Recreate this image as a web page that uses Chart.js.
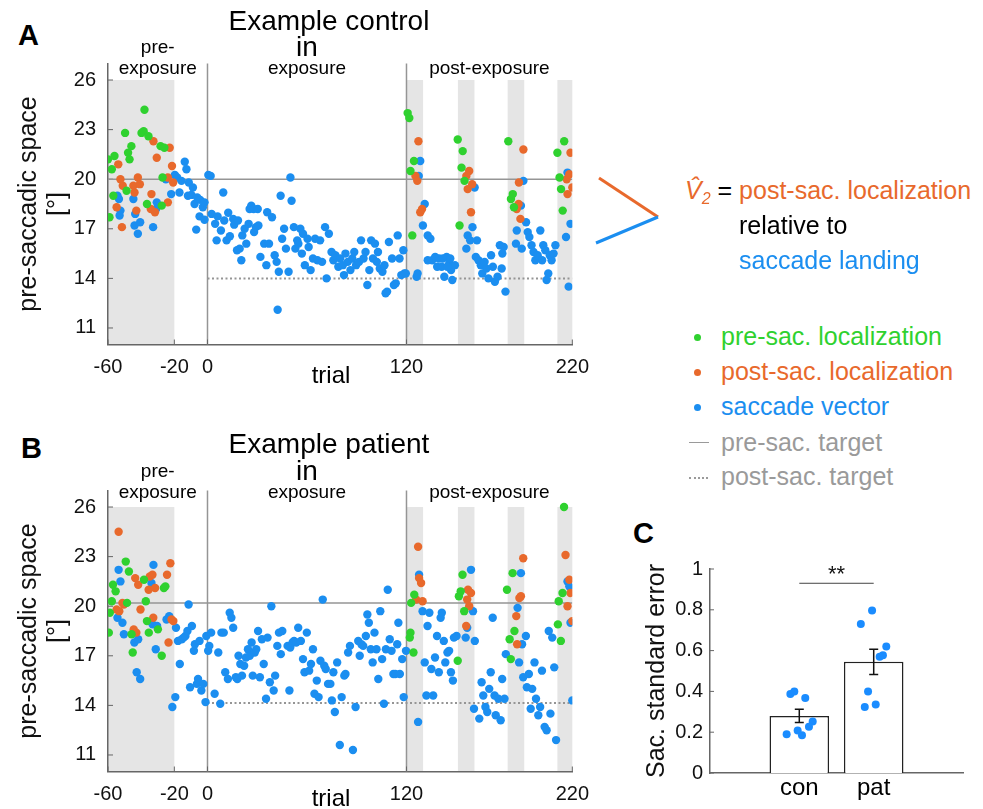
<!DOCTYPE html>
<html>
<head>
<meta charset="utf-8">
<script src="https://cdn.jsdelivr.net/npm/chart.js@4.4.1/dist/chart.umd.min.js"></script>
<style>
  body { margin: 0; background: #fff; }
  #fig { position: relative; width: 983px; height: 809px; overflow: hidden; font-family: "Liberation Sans", Arial, sans-serif; }
  #fig canvas { position: absolute; }
  .txt { position: absolute; white-space: nowrap; font-size: 25px; line-height: 25px; }
  .letter { position: absolute; font-weight: bold; font-size: 29px; line-height: 29px; }
  .dot { position: absolute; width: 7px; height: 7px; border-radius: 50%; }
</style>
</head>
<body>
<div id="fig">
  <div class="letter" style="left:18px;top:21px">A</div>
  <div class="letter" style="left:21px;top:434px">B</div>
  <div class="letter" style="left:633px;top:519px">C</div>

  <canvas id="chartA" width="600" height="400" style="left:0;top:0"></canvas>
  <canvas id="chartB" width="600" height="389" style="left:0;top:420px"></canvas>
  <canvas id="chartC" width="363" height="299" style="left:620px;top:510px"></canvas>

  <!-- V2 sketch: localization vs landing -->
  <svg style="position:absolute;left:585px;top:165px" width="85" height="95">
    <line x1="14" y1="13" x2="73" y2="52" stroke="#e8692c" stroke-width="3"/>
    <line x1="11" y1="78" x2="73" y2="52" stroke="#1b8ef0" stroke-width="3"/>
  </svg>
  <div class="txt" style="left:685px;top:178px">
    <span style="color:#e8692c;font-style:italic">V&#770;</span><span style="color:#e8692c;font-style:italic;font-size:16px;position:relative;top:5px">2</span>
    = <span style="color:#e8692c">post-sac. localization</span>
  </div>
  <div class="txt" style="left:739px;top:213px;color:#000">relative to</div>
  <div class="txt" style="left:739px;top:248px;color:#1b8ef0">saccade landing</div>

  <div class="dot" style="left:694px;top:334px;background:#2fd12f"></div>
  <div class="txt" style="left:721px;top:324px;color:#2fd12f">pre-sac. localization</div>
  <div class="dot" style="left:694px;top:369px;background:#e8692c"></div>
  <div class="txt" style="left:721px;top:359px;color:#e8692c">post-sac. localization</div>
  <div class="dot" style="left:694px;top:404px;background:#1b8ef0"></div>
  <div class="txt" style="left:721px;top:394px;color:#1b8ef0">saccade vector</div>
  <div style="position:absolute;left:689px;top:442px;width:20px;border-top:1.5px solid #9a9a9a"></div>
  <div class="txt" style="left:721px;top:430px;color:#9a9a9a">pre-sac. target</div>
  <div style="position:absolute;left:689px;top:477px;width:19px;border-top:2px dotted #9a9a9a"></div>
  <div class="txt" style="left:721px;top:464px;color:#9a9a9a">post-sac. target</div>
</div>

<script>
// ---- trial axis / phases ----
const trialTicks = [-60, -20, 0, 120, 220];
const spaceTicks = [11, 14, 17, 20, 23, 26];
const phaseBounds = [-60, 0, 120, 220];
const phaseLabels = [['pre-', 'exposure'], ['exposure'], ['post-exposure']];
const shadedBlocks = [[-60, -20], [120, 130], [151, 161], [181, 191], [211, 220]];
const shadeTop = 26;

// targets: [pre-saccadic, post-saccadic] in deg
const controlTargets = [20, 14];
const patientTargets = [20.2, 14.15];

// ---- example control: [trial, deg] ----
const controlPreLoc = [
  [-60, 21.2], [-57.7, 20.6], [-56.1, 21.4], [-56.8, 19.0], [-59.1, 17.7], [-49.7, 22.8], [-47.9, 21.6],
  [-45.9, 22.0], [-47, 21.2], [-48.8, 19.3], [-38, 24.2], [-39.8, 22.8], [-38.5, 22.9], [-35.6, 22.6],
  [-36.5, 18.5], [-28.3, 22.0], [-26, 21.9], [-27.1, 20.1], [-27.6, 18.4],
  [120.7, 24.0], [121.7, 23.7], [122.4, 20.5], [124.5, 21.1], [123.5, 16.6],
  [150.9, 22.4], [153.9, 21.7], [153.2, 20.7], [155, 19.9], [152, 17.2],
  [181.4, 22.3], [183, 18.8], [184.1, 19.1], [184.8, 18.3],
  [211, 21.6], [212.3, 20.1], [213.2, 19.4], [215.1, 22.3], [214.2, 18.1]
];
const controlPostLoc = [
  [-53.8, 20.9], [-52.5, 20.0], [-51.1, 19.6], [-54.8, 18.3], [-51.6, 17.1], [-44.7, 19.6], [-44, 19.2],
  [-42, 20.1], [-40.8, 19.7], [-42.9, 18.1], [-33.8, 19.1], [-32.6, 22.3], [-30.6, 21.3], [-34.2, 18.2],
  [-31.7, 18.0], [-23.9, 20.1], [-22.8, 21.9], [-21.4, 20.8], [-20.7, 19.8], [-23.9, 18.6],
  [127.2, 22.3], [125.4, 20.2], [126.5, 19.9], [128.3, 18.0], [129.4, 18.2],
  [157.8, 20.5], [156.1, 20.2], [156.9, 19.4], [159.6, 19.7], [158.9, 18.0],
  [187.8, 19.8], [186.5, 18.2], [187.6, 18.5], [188.7, 17.6], [190.5, 21.8],
  [216.6, 20.0], [218.2, 20.3], [218.9, 21.6], [217.1, 19.1], [220, 19.5]
];
const controlSaccade = [
  [-54.3, 19.0], [-53.4, 18.8], [-52.5, 18.1], [-53, 17.8], [-44.7, 18.8], [-43.6, 17.9], [-42, 16.7],
  [-44, 17.2], [-40.6, 17.4], [-32.8, 17.1], [-30.6, 18.6], [-31, 18.2], [-25.1, 20.0], [-21.9, 19.1],
  [-19.7, 20.25], [-18.3, 20.1], [-16.9, 19.2], [-15.7, 19.9], [-13.7, 21.06], [-12.7, 20.6], [-11.3, 19.8],
  [-11.8, 19.0], [-9.7, 19.05], [-8.8, 19.5], [-7.8, 18.5], [-6.2, 18.9], [-6.8, 16.95], [-4.4, 18.75],
  [-4.8, 17.75], [-2.8, 18.3], [-1.8, 18.6], [-1.8, 17.55], [0.5, 20.25], [1.9, 20.2], [2.5, 17.9],
  [4.6, 17.3], [5.5, 16.3], [6.1, 17.75], [8.1, 16.9], [9.5, 19.2], [10.1, 17.5], [11.5, 16.3],
  [12.5, 17.97], [13.5, 16.55], [15.5, 17.6], [16.1, 17.25], [17.8, 15.7], [18.4, 17.5], [19.4, 15.8],
  [20.4, 15.1], [21, 16.6], [22.4, 17.0], [23.4, 16.1], [24.8, 17.3], [25.4, 18.2], [26.4, 18.4],
  [27.8, 18.2], [28.1, 16.8], [29.2, 17.1], [30.3, 18.2], [30.7, 17.2], [31.9, 15.3], [34.2, 16.1],
  [35.5, 14.8], [37.1, 16.1], [36, 18.0], [38.9, 17.7], [40.5, 15.4], [41.7, 15.0], [42.3, 12.1],
  [43, 14.4], [44.1, 19.0], [45, 16.4], [46.2, 17.0], [47.3, 15.8], [48.9, 14.4], [50, 20.1],
  [50.7, 18.7], [52.1, 17.1], [53, 15.8], [54.1, 16.3], [54.8, 16.1], [56, 17.0], [56.9, 15.5],
  [57.6, 16.7], [58.7, 14.8], [60.3, 16.4], [61, 15.9], [62.2, 14.5], [63.6, 15.2], [64.9, 16.4],
  [66.3, 15.1], [67.9, 16.3], [69.1, 15.0], [70.9, 17.1], [71.8, 14.0], [73.2, 16.7], [74.8, 15.6],
  [75.9, 15.1], [77.1, 15.4], [78.9, 14.7], [80, 15.2], [81.6, 14.8], [82.3, 14.2], [83.2, 15.5],
  [84.6, 15.0], [86.2, 14.5], [87.3, 15.2], [88.5, 15.6], [89.6, 14.8], [91.4, 15.0], [92.6, 16.3],
  [94.1, 15.2], [95.3, 15.6], [96.4, 13.6], [97.6, 14.5], [98.7, 16.3], [99.8, 15.2], [101, 16.1],
  [102.1, 15.0], [102.8, 15.6], [103.9, 14.6], [105.5, 14.4], [106.7, 14.8], [107.4, 13.1], [108.3, 13.2],
  [109.4, 16.2], [111.3, 15.2], [112.4, 13.6], [113.5, 13.7], [114.7, 16.6], [115.8, 15.2], [116.9, 14.2],
  [118.1, 15.7], [118.7, 14.3], [119.6, 14.3],
  [128.3, 21.1], [127.4, 20.2], [126.1, 14.1], [126.7, 14.3], [129.9, 17.2], [131, 18.5], [132.8, 16.6],
  [134.4, 16.4], [132.8, 15.1], [135.5, 15.1], [137.3, 15.3], [138.5, 14.7], [139.6, 15.2], [141.2, 14.7],
  [141.9, 15.2], [142.8, 14.1], [144.2, 15.3], [145.8, 14.9], [146.9, 14.5], [147.6, 13.9], [149.2, 14.8],
  [146.4, 15.2], [144.6, 14.7],
  [161.1, 19.5], [156.1, 15.8], [156.9, 16.6], [158.4, 16.3], [159.8, 17.1], [162.5, 16.3],
  [161.8, 15.3], [163.4, 15.1], [164.8, 14.8], [165.7, 14.3], [167.1, 15.0], [168.2, 14.6], [169.4, 14.0],
  [171, 15.4], [172.1, 14.7], [173.3, 13.8], [174.9, 14.1], [176.3, 16.0], [177.4, 14.6], [178.6, 15.9],
  [179.7, 13.2], [177.8, 15.5],
  [190.5, 19.9], [186.5, 16.9], [186, 16.1], [189, 18.4], [189.5, 15.8],
  [192.1, 17.4], [193.1, 16.8], [194.1, 16.5], [195.4, 16.0], [196.6, 15.6], [197.7, 15.1], [199.1, 15.4],
  [200.7, 16.9], [201.8, 15.1], [202.5, 16.0], [203.7, 15.7], [204.5, 13.9], [205.5, 14.3], [206.4, 15.4],
  [207.5, 15.1], [208.7, 15.5], [209.8, 16.0],
  [217.1, 20.4], [216.2, 16.5], [218.9, 17.3], [217.8, 13.5]
];

// ---- example patient: [trial, deg] ----
const patientPreLoc = [
  [-59.5, 18.4], [-58.9, 19.6], [-57.7, 20.3], [-57, 21.3], [-55.4, 20.9], [-49.3, 22.7], [-47.4, 22.1],
  [-48.5, 20.2], [-45.8, 18.3], [-45.1, 17.2], [-38.3, 21.6], [-37.2, 20.3], [-36.5, 19.1], [-35.4, 18.4],
  [-29.9, 18.6], [-27.6, 17.0], [-26.3, 21.1], [-25.4, 21.2],
  [122.4, 18.4], [122, 18.1], [122.8, 20.2], [124.7, 20.7], [124.2, 17.2],
  [151.6, 20.6], [152.7, 20.9], [153.8, 21.9], [154.8, 19.7], [150.9, 16.7],
  [180.6, 21.0], [182.2, 18.0], [184, 22.0], [185.1, 18.5], [182.9, 16.8],
  [215, 26.0], [214.1, 20.8], [211.8, 20.3], [211.3, 18.9], [213.1, 17.9]
];
const patientPostLoc = [
  [-53.6, 24.5], [-54.8, 19.8], [-53.2, 19.7], [-51.3, 20.2], [-50.4, 20.1], [-43.6, 21.7], [-41.8, 21.3],
  [-40.4, 19.8], [-44.5, 18.6], [-42.9, 18.4], [-34.8, 21.8], [-33.2, 21.9], [-35.5, 21.0], [-31.6, 21.1],
  [-32.7, 19.3], [-22.4, 22.6], [-24.4, 21.9], [-23.5, 17.8], [-21.7, 19.2], [-20.6, 19.1],
  [127, 23.6], [127.6, 21.7], [128.8, 21.4], [125.8, 20.4], [129.7, 20.3],
  [157.1, 21.0], [158.9, 20.8], [156.6, 20.4], [157.8, 20.0], [156, 18.8],
  [186.2, 19.4], [186.7, 17.7], [188.1, 20.5], [189, 20.6], [190.4, 22.9],
  [215.9, 23.1], [217.1, 20.0], [218.2, 21.6], [218.9, 20.8], [220, 19.1]
];
const patientSaccade = [
  [-53.6, 22.2], [-52.5, 21.5], [-54.3, 19.3], [-51.3, 19.0], [-50.4, 18.3], [-44.1, 17.8], [-41.8, 18.0],
  [-42.7, 16.0], [-40.6, 15.6], [-32.6, 22.5], [-33.8, 21.4], [-33.1, 18.9], [-31.2, 17.4], [-30.4, 18.8],
  [-24.7, 19.2], [-23.1, 19.4],
  [-19, 18.7], [-21.2, 13.9], [-19.4, 14.5], [-17.8, 17.9], [-16.7, 16.5], [-15.5, 18.0], [-14.4, 18.1],
  [-13.3, 18.2], [-12.1, 18.5], [-11.4, 20.1], [-10.5, 15.1], [-9.4, 18.8], [-8.2, 17.3], [-7.6, 17.7],
  [-6.4, 15.3], [-5.7, 15.6], [-4.8, 17.9], [-3.7, 14.9], [-2.5, 15.3], [-1.2, 14.2], [-0.7, 18.2],
  [0.4, 17.3], [1.1, 17.6], [2.2, 18.4], [4.3, 14.7], [6.5, 17.2], [7.7, 14.1], [8.4, 18.4], [9.8, 18.4],
  [10.7, 16.0], [12.3, 15.6], [13.4, 19.6], [14.4, 19.3], [15.5, 18.7], [17.1, 15.7], [18, 15.6],
  [18.7, 17.0], [19.8, 16.5], [20.8, 15.8], [22.1, 16.4], [23.2, 16.9], [24.4, 17.4], [25.5, 17.0],
  [26.6, 17.8], [27.3, 15.8], [28.5, 17.2], [29.4, 17.4], [30.5, 18.5], [31.6, 15.7], [32.8, 18.0],
  [33.9, 16.5], [35.3, 14.4], [36.2, 18.1], [37.6, 15.4], [38.5, 20.0], [39.9, 14.9], [40.8, 15.8],
  [42.1, 17.6], [43.1, 18.4], [44.2, 17.1], [45.1, 18.5], [48.3, 17.6], [49.4, 14.9], [49.9, 17.5],
  [51.3, 17.8], [52.2, 17.9], [53.5, 17.8], [54.7, 18.7], [56.3, 17.9], [57.6, 16.8], [58.5, 16.0],
  [59.9, 18.4], [61.3, 16.1], [62.4, 16.5], [63.6, 17.4], [64.5, 14.7], [65.9, 15.5], [67, 14.5],
  [68.1, 16.7], [69.5, 20.4], [70.4, 16.4], [71.3, 16.2], [72.7, 15.3], [74.1, 15.3], [75, 14.3],
  [75.9, 16.0], [76.8, 13.6], [78.2, 16.6], [79.8, 11.6], [80.9, 14.5], [82.5, 15.8], [83.2, 15.9],
  [84.8, 17.2], [85.9, 17.6], [87.7, 11.3], [89.3, 13.9], [90.9, 17.9], [91.8, 17.0], [92.8, 17.7],
  [93.9, 17.6], [95.5, 18.2], [96.4, 19.5], [97.3, 19.0], [98.5, 17.4], [99.6, 16.6], [100.7, 18.4],
  [101.9, 17.4], [103, 15.6], [104.2, 19.7], [105.3, 16.8], [106.4, 14.1], [107.6, 17.4], [108.7, 21.0],
  [109.9, 18.0], [111, 17.3], [112.1, 15.9], [113.3, 15.9], [114.4, 17.7], [115.1, 19.0], [116, 15.9],
  [117.4, 16.8], [118.3, 14.5], [119.7, 17.3],
  [127.6, 21.9], [127, 13.0], [129.7, 19.7], [131, 16.6], [132.7, 18.8], [132, 14.6],
  [133.8, 19.6], [135, 16.2], [136.1, 14.6], [137.2, 16.9], [138.4, 18.2], [139.5, 16.0], [140.6, 19.3],
  [141.3, 19.6], [142.5, 17.9], [143.4, 16.6], [144.7, 17.2], [145.7, 17.3], [146.8, 16.0], [148, 15.5],
  [148.6, 18.1], [150.2, 18.2],
  [158.9, 22.2], [156.6, 18.7], [155.7, 18.1], [160.1, 19.7], [161.2, 17.9], [160.7, 13.8],
  [163.9, 13.2], [165.3, 15.4], [166.3, 14.6], [167.6, 13.9], [168.7, 13.6], [169.9, 15.0], [170.8, 16.0],
  [172, 19.3], [173.1, 14.6], [173.8, 13.4], [175.4, 14.4], [176.8, 13.1], [177.7, 15.6], [179.1, 14.4],
  [189, 22.0], [187, 19.9], [189.7, 17.7], [187.9, 16.6], [190.4, 15.7], [192, 18.2], [179.9, 17.1],
  [192.6, 15.1], [193.8, 15.9], [194.9, 13.8], [195.8, 15.0], [197.2, 16.6], [198.1, 14.4], [199.5, 13.4],
  [200.6, 13.9], [201.7, 16.1], [203.3, 12.7], [204.5, 12.5], [205.8, 18.5], [206.8, 13.5], [207.9, 18.1],
  [209.1, 16.3], [210.2, 11.9],
  [217.1, 21.5], [218.2, 21.2], [218.9, 19.0], [220, 14.3]
];

// ---- panel C: saccadic standard error per group ----
const groupNames = ['con', 'pat'];
const groupPos = [1, 2];
const groupMean = [0.28, 0.545];
const groupSem = [0.032, 0.062];
const errTicks = [0, 0.2, 0.4, 0.6, 0.8, 1];
const conDotVals = [0.387, 0.40, 0.368, 0.19, 0.208, 0.185, 0.253, 0.227];
const conDotX = [0.88, 0.933, 1.08, 0.83, 0.978, 1.036, 1.18, 1.13];
const patDotVals = [0.73, 0.797, 0.62, 0.577, 0.57, 0.399, 0.324, 0.336];
const patDotX = [1.827, 1.978, 2.169, 2.124, 2.08, 1.924, 1.88, 2.027];

const GREEN = '#2fd12f';
const ORANGE = '#e8692c';
const BLUE = '#1b8ef0';
const AXIS = '#666';
const REF = '#959595';
const FONT = '"Liberation Sans", Arial, sans-serif';

Chart.defaults.font.family = FONT;
Chart.defaults.color = '#111';

const xy = (list) => list.map(([x, y]) => ({ x, y }));

const phasePanel = {
  id: 'phasePanel',
  beforeDraw(chart) {
    const { ctx, scales: { x, y } } = chart;
    const yTop = y.getPixelForValue(shadeTop);
    const yBot = y.getPixelForValue(y.min);
    ctx.save();
    ctx.fillStyle = '#e5e5e5';
    shadedBlocks.forEach(([t0, t1]) => {
      const x0 = x.getPixelForValue(t0);
      ctx.fillRect(x0, yTop, x.getPixelForValue(t1) - x0, yBot - yTop);
    });
    ctx.restore();
  },
  beforeDatasetsDraw(chart) {
    const { ctx, chartArea: area, scales: { x, y } } = chart;
    ctx.save();
    ctx.strokeStyle = REF;
    ctx.lineWidth = 1.5;
    phaseBounds.slice(1, -1).forEach((t) => {
      const px = x.getPixelForValue(t);
      ctx.beginPath();
      ctx.moveTo(px, area.top);
      ctx.lineTo(px, area.bottom);
      ctx.stroke();
    });
    // tick marks point inwards
    ctx.strokeStyle = AXIS;
    ctx.lineWidth = 1;
    y.ticks.forEach((t) => {
      const py = y.getPixelForValue(t.value);
      ctx.beginPath();
      ctx.moveTo(area.left, py);
      ctx.lineTo(area.left + 5, py);
      ctx.stroke();
    });
    x.ticks.forEach((t) => {
      const px = x.getPixelForValue(t.value);
      ctx.beginPath();
      ctx.moveTo(px, area.bottom);
      ctx.lineTo(px, area.bottom - 5);
      ctx.stroke();
    });
    ctx.restore();
  },
  afterDraw(chart, args, o) {
    const { ctx, scales: { x } } = chart;
    ctx.save();
    ctx.fillStyle = '#000';
    ctx.textAlign = 'center';
    ctx.textBaseline = 'middle';
    ctx.font = `28px ${FONT}`;
    o.title.forEach(([s, px, py]) => ctx.fillText(s, px, py));
    ctx.font = `19px ${FONT}`;
    phaseLabels.forEach((lines, i) => {
      const cx = (x.getPixelForValue(phaseBounds[i]) + x.getPixelForValue(phaseBounds[i + 1])) / 2;
      lines.forEach((s, j) => ctx.fillText(s, cx, o.labelY - (lines.length - 1 - j) * 21));
    });
    ctx.font = `24px ${FONT}`;
    ctx.fillText('trial', 331, o.trialY);
    ctx.restore();
  }
};

function trialChart(id, preLoc, postLoc, saccade, targets, cfg) {
  const canvas = document.getElementById(id);
  const H = canvas.height;
  return new Chart(canvas, {
    type: 'scatter',
    data: {
      datasets: [
        { data: xy(preLoc), backgroundColor: GREEN, order: 1 },
        { data: xy(postLoc), backgroundColor: ORANGE, order: 1 },
        { data: xy(saccade), backgroundColor: BLUE, order: 1 },
        {
          type: 'line', order: 5, data: [{ x: -60, y: targets[0] }, { x: 220, y: targets[0] }],
          borderColor: REF, borderWidth: 1.5, pointRadius: 0, fill: false
        },
        {
          type: 'line', order: 5, data: [{ x: 0, y: targets[1] }, { x: 220, y: targets[1] }],
          borderColor: REF, borderWidth: 2, borderDash: [2, 2.5], pointRadius: 0, fill: false
        }
      ]
    },
    plugins: [phasePanel],
    options: {
      responsive: false,
      animation: false,
      events: [],
      layout: { padding: { top: cfg.top, right: 22, left: 0, bottom: 0 } },
      elements: { point: { radius: 4.2, borderWidth: 0, hoverRadius: 4.2 } },
      scales: {
        x: {
          type: 'linear', min: -60, max: 220,
          afterBuildTicks: (s) => { s.ticks = trialTicks.map((v) => ({ value: v })); },
          afterFit: (s) => { s.height = H - cfg.bottom; },
          grid: { display: false, drawTicks: false },
          border: { color: AXIS, width: 1.5 },
          ticks: { autoSkip: false, maxRotation: 0, minRotation: 0, padding: 11, font: { size: 20 } }
        },
        y: {
          type: 'linear', min: 10, max: 27,
          afterBuildTicks: (s) => { s.ticks = spaceTicks.map((v) => ({ value: v })); },
          afterFit: (s) => { s.width = 108; },
          grid: { display: false, drawTicks: false },
          border: { color: AXIS, width: 1.5 },
          ticks: { padding: 12, font: { size: 20 } },
          title: {
            display: true, text: ['pre-saccadic space', '[°]'], color: '#111',
            font: { size: 25, lineHeight: 1.16 }, padding: { top: 15, bottom: 0 }
          }
        }
      },
      plugins: {
        legend: { display: false },
        tooltip: { enabled: false },
        phasePanel: cfg
      }
    }
  });
}

trialChart('chartA', controlPreLoc, controlPostLoc, controlSaccade, controlTargets, {
  top: 63.5, bottom: 344.5, labelY: 69, trialY: 376,
  title: [['Example control', 329, 22], ['in', 307, 48]]
});
trialChart('chartB', patientPreLoc, patientPostLoc, patientSaccade, patientTargets, {
  top: 70.5, bottom: 351.5, labelY: 72.7, trialY: 379,
  title: [['Example patient', 329, 25], ['in', 307, 52]]
});

// ---- panel C ----
const groupMarks = {
  id: 'groupMarks',
  afterDatasetsDraw(chart) {
    const { ctx, scales: { x, y } } = chart;
    ctx.save();
    ctx.strokeStyle = '#111';
    ctx.lineWidth = 1.5;
    groupPos.forEach((g, i) => {
      const px = x.getPixelForValue(g);
      const lo = y.getPixelForValue(groupMean[i] - groupSem[i]);
      const hi = y.getPixelForValue(groupMean[i] + groupSem[i]);
      ctx.beginPath();
      ctx.moveTo(px, lo); ctx.lineTo(px, hi);
      ctx.moveTo(px - 4.5, lo); ctx.lineTo(px + 4.5, lo);
      ctx.moveTo(px - 4.5, hi); ctx.lineTo(px + 4.5, hi);
      ctx.stroke();
    });
    // significance bracket
    const sy = y.getPixelForValue(0.93);
    ctx.strokeStyle = '#444';
    ctx.lineWidth = 1;
    ctx.beginPath();
    ctx.moveTo(x.getPixelForValue(groupPos[0]), sy);
    ctx.lineTo(x.getPixelForValue(groupPos[1]), sy);
    ctx.stroke();
    ctx.fillStyle = '#111';
    ctx.font = `22px ${FONT}`;
    ctx.textAlign = 'center';
    ctx.textBaseline = 'alphabetic';
    ctx.fillText('**', x.getPixelForValue((groupPos[0] + groupPos[1]) / 2), sy - 2);
    // inward ticks on the value axis
    ctx.strokeStyle = AXIS;
    y.ticks.forEach((t) => {
      const py = y.getPixelForValue(t.value);
      ctx.beginPath();
      ctx.moveTo(chart.chartArea.left, py);
      ctx.lineTo(chart.chartArea.left + 4, py);
      ctx.stroke();
    });
    ctx.restore();
  }
};

new Chart(document.getElementById('chartC'), {
  type: 'bar',
  data: {
    datasets: [
      {
        type: 'scatter', order: 0,
        data: xy(conDotX.map((px, i) => [px, conDotVals[i]]).concat(patDotX.map((px, i) => [px, patDotVals[i]]))),
        backgroundColor: '#1a8cff', pointRadius: 4, borderWidth: 0
      },
      {
        type: 'bar', order: 1,
        data: groupPos.map((g, i) => ({ x: g, y: groupMean[i] })),
        backgroundColor: '#fff', borderColor: '#222', borderWidth: 1.5,
        barPercentage: 0.8, categoryPercentage: 1
      }
    ]
  },
  plugins: [groupMarks],
  options: {
    responsive: false,
    animation: false,
    events: [],
    layout: { padding: { top: 59, right: 20, left: 0, bottom: 0 } },
    scales: {
      x: {
        type: 'linear', min: -0.2, max: 3.2, offset: false,
        afterBuildTicks: (s) => { s.ticks = groupPos.map((v) => ({ value: v })); },
        afterFit: (s) => { s.height = 36; },
        grid: { display: false, drawTicks: false },
        border: { color: AXIS, width: 1.5 },
        ticks: {
          autoSkip: false, maxRotation: 0, padding: 1, font: { size: 24 }, color: '#000',
          callback: (v) => groupNames[groupPos.indexOf(v)]
        }
      },
      y: {
        type: 'linear', min: 0, max: 1,
        afterBuildTicks: (s) => { s.ticks = errTicks.map((v) => ({ value: v })); },
        afterFit: (s) => { s.width = 90; },
        grid: { display: false, drawTicks: false },
        border: { color: AXIS, width: 1.5 },
        ticks: { padding: 7, font: { size: 20 }, callback: (v) => (v === 0 || v === 1 ? String(v) : v.toFixed(1)) },
        title: {
          display: true, text: 'Sac. standard error', color: '#111',
          font: { size: 25, lineHeight: 1.2 }, padding: { top: 22, bottom: 0 }
        }
      }
    },
    plugins: { legend: { display: false }, tooltip: { enabled: false } }
  }
});
</script>
</body>
</html>
